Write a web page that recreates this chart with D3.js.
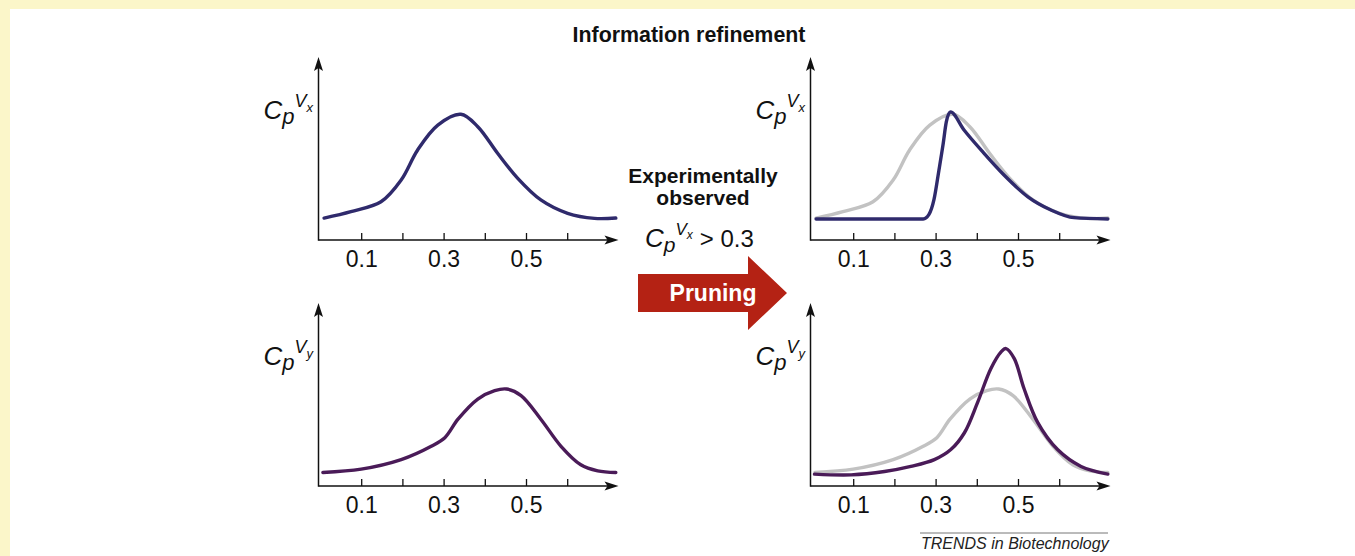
<!DOCTYPE html>
<html>
<head>
<meta charset="utf-8">
<script src="https://cdn.jsdelivr.net/npm/d3@7"></script>
<style>
  html, body { margin: 0; padding: 0; background: #fff; }
  svg { display: block; font-family: "Liberation Sans", Arial, Helvetica, sans-serif; }
</style>
</head>
<body>
<div id="chart"></div>
<script>
// x ticks shared by all four panels
const xTicks = [0.1, 0.2, 0.3, 0.4, 0.5, 0.6]
const xTickLabels = ['0.1', '', '0.3', '', '0.5', '']

// prior distributions [x, density]
const priorVx = [
  [0.01, 0.12], [0.075, 0.155], [0.148, 0.209], [0.197, 0.328], [0.237, 0.492],
  [0.286, 0.628], [0.342, 0.687], [0.383, 0.619], [0.431, 0.474], [0.48, 0.337],
  [0.536, 0.219], [0.601, 0.146], [0.666, 0.118], [0.718, 0.12]
]
const priorVy = [
  [0.007, 0.074], [0.1, 0.092], [0.197, 0.144], [0.27, 0.217], [0.303, 0.264],
  [0.335, 0.365], [0.383, 0.475], [0.424, 0.521], [0.453, 0.53], [0.488, 0.494],
  [0.536, 0.365], [0.585, 0.217], [0.633, 0.116], [0.674, 0.083], [0.718, 0.074]
]

// after pruning with observed Vx > 0.3
const prunedVx = [
  [0.01, 0.115], [0.15, 0.115], [0.27, 0.115], [0.284, 0.14], [0.296, 0.22], [0.308, 0.38],
  [0.318, 0.52], [0.326, 0.645], [0.336, 0.7], [0.369, 0.601], [0.417, 0.475], [0.466, 0.355],
  [0.524, 0.236], [0.58, 0.164], [0.636, 0.122], [0.718, 0.115]
]
const prunedVy = [
  [0.006, 0.065], [0.095, 0.061], [0.176, 0.079], [0.24, 0.107], [0.297, 0.144],
  [0.337, 0.199], [0.37, 0.291], [0.402, 0.457], [0.434, 0.641], [0.459, 0.733],
  [0.471, 0.751], [0.491, 0.696], [0.515, 0.53], [0.548, 0.346], [0.596, 0.199],
  [0.653, 0.107], [0.718, 0.065]
]

const NAVY = '#2f2a6c'
const PURPLE = '#4a1b58'
const GREY = '#c2c2c2'

const W = 1355, H = 556
const svg = d3.select('#chart').append('svg').attr('width', W).attr('height', H)

// pale yellow frame (top + left)
svg.append('rect').attr('x', 0).attr('y', 0).attr('width', W).attr('height', 9).attr('fill', '#fbf6c9')
svg.append('rect').attr('x', 0).attr('y', 0).attr('width', 10).attr('height', H).attr('fill', '#fbf6c9')

const axisW = 300, axisH = 183
const x = d3.scaleLinear().domain([0, 0.7]).range([1.5, 1.5 + 0.7 * 412])
const y = d3.scaleLinear().domain([0, 1]).range([0, -axisH])
const smooth = d3.line().x(d => x(d[0])).y(d => y(d[1])).curve(d3.curveCatmullRom.alpha(0.5))
const sharp = d3.line().x(d => x(d[0])).y(d => y(d[1])).curve(d3.curveMonotoneX)

function arrowHead(g, tx, ty, dir) {
  // dir: 'right' or 'up'
  const L = 14, Wd = 4.5
  const p = dir === 'right'
    ? [[tx, ty], [tx - L, ty - Wd], [tx - L + 3, ty], [tx - L, ty + Wd]]
    : [[tx, ty], [tx - Wd, ty + L], [tx, ty + L - 3], [tx + Wd, ty + L]]
  g.append('path').attr('d', 'M' + p.join('L') + 'Z').attr('fill', '#111')
}

function yLabel(g, sub) {
  const t = g.append('text').attr('x', -55).attr('y', -121).attr('fill', '#111').style('font-style', 'italic')
  t.append('tspan').style('font-size', '26px').text('C')
  t.append('tspan').style('font-size', '22px').attr('dy', 5).text('p')
  t.append('tspan').style('font-size', '18px').attr('dy', -17).text('V')
  t.append('tspan').style('font-size', '13px').attr('dy', 5).text(sub)
}

function panel(ox, oy, sub, curves) {
  const g = svg.append('g').attr('transform', `translate(${ox},${oy})`)

  curves.forEach(c => {
    g.append('path').datum(c.data).attr('d', c.line || smooth)
      .attr('fill', 'none').attr('stroke', c.color).attr('stroke-width', 3.4)
      .attr('stroke-linecap', 'round').attr('stroke-linejoin', 'round')
  })

  const ax = g.append('g').call(d3.axisBottom(x)
    .tickValues(xTicks)
    .tickFormat((d, i) => xTickLabels[i])
    .tickSizeInner(-7).tickSizeOuter(0).tickPadding(11))
  ax.select('.domain').remove()
  ax.selectAll('.tick line').attr('stroke', '#111').attr('stroke-width', 1.3)
  ax.selectAll('.tick text').attr('fill', '#111').style('font-size', '23px')
    .style('font-family', '"Liberation Sans", Arial, sans-serif')

  g.append('line').attr('x1', 0).attr('y1', 0).attr('x2', axisW - 8).attr('y2', 0)
    .attr('stroke', '#111').attr('stroke-width', 1.5)
  g.append('line').attr('x1', 0).attr('y1', 0.7).attr('x2', 0).attr('y2', -axisH + 8)
    .attr('stroke', '#111').attr('stroke-width', 1.5)
  arrowHead(g, axisW, 0, 'right')
  arrowHead(g, 0, -axisH, 'up')

  yLabel(g, sub)
}

panel(318.5, 240, 'x', [{ data: priorVx, color: NAVY }])
panel(810.5, 240, 'x', [{ data: priorVx, color: GREY }, { data: prunedVx, color: NAVY, line: sharp }])
panel(318.5, 486, 'y', [{ data: priorVy, color: PURPLE }])
panel(810.5, 486, 'y', [{ data: priorVy, color: GREY }, { data: prunedVy, color: PURPLE }])

// titles and centre annotation
svg.append('text').attr('x', 689).attr('y', 42).attr('text-anchor', 'middle')
  .style('font-size', '21.4px').style('font-weight', 'bold').attr('fill', '#111').text('Information refinement')
svg.append('text').attr('x', 703).attr('y', 183).attr('text-anchor', 'middle')
  .style('font-size', '21px').style('font-weight', 'bold').attr('fill', '#111').text('Experimentally')
svg.append('text').attr('x', 703).attr('y', 205).attr('text-anchor', 'middle')
  .style('font-size', '21px').style('font-weight', 'bold').attr('fill', '#111').text('observed')

const cond = svg.append('text').attr('x', 645).attr('y', 247).attr('fill', '#111')
const ci = cond.append('tspan').style('font-style', 'italic')
ci.append('tspan').style('font-size', '26px').text('C')
ci.append('tspan').style('font-size', '21px').attr('dy', 5).text('p')
ci.append('tspan').style('font-size', '17px').attr('dy', -17).text('V')
ci.append('tspan').style('font-size', '12px').attr('dy', 4).text('x')
cond.append('tspan').style('font-size', '24px').attr('dx', 7).attr('dy', 8).text('> 0.3')

// red pruning arrow
const arrowPts = [[638, 274], [748, 274], [748, 256], [787, 293], [748, 330], [748, 312], [638, 312]]
svg.append('path').attr('d', 'M' + arrowPts.join('L') + 'Z').attr('fill', '#b42214')
svg.append('text').attr('x', 713).attr('y', 301).attr('text-anchor', 'middle')
  .style('font-size', '23px').style('font-weight', 'bold').attr('fill', '#fff').text('Pruning')

// footer
svg.append('line').attr('x1', 920).attr('x2', 1108).attr('y1', 533).attr('y2', 533)
  .attr('stroke', '#777').attr('stroke-width', 1)
svg.append('text').attr('x', 921).attr('y', 549).style('font-size', '16px').style('font-style', 'italic')
  .attr('fill', '#222').text('TRENDS in Biotechnology')
</script>
</body>
</html>
